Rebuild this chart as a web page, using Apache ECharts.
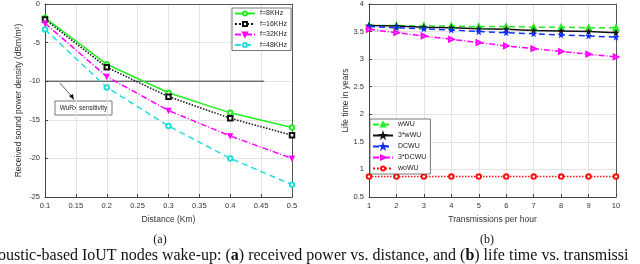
<!DOCTYPE html>
<html><head><meta charset="utf-8">
<script src="https://cdn.jsdelivr.net/npm/echarts@6/dist/echarts.min.js"></script>
<style>html,body{margin:0;padding:0;background:#fff}#c{width:640px;height:264px}</style>
</head><body><div id="c"></div>
<script>
// ---- Data (a) ----
const distance = [0.1, 0.2, 0.3, 0.4, 0.5];
const f8 = [-1.8, -7.8, -11.5, -14.1, -16.0];
const f16 = [-2.0, -8.2, -12.0, -14.8, -17.0];
const f32 = [-2.5, -9.4, -13.8, -17.1, -20.0];
const f48 = [-3.3, -10.8, -15.8, -20.0, -23.4];
const sensX = [0.1, 0.455];
const sensY = [-10, -10];
const namesA = ['f=8KHz', 'f=16KHz', 'f=32KHz', 'f=48KHz'];
// ---- Data (b) ----
const trans = [1, 2, 3, 4, 5, 6, 7, 8, 9, 10];
const wWU = [3.61, 3.61, 3.60, 3.60, 3.59, 3.59, 3.58, 3.58, 3.57, 3.57];
const w3WU = [3.61, 3.60, 3.58, 3.57, 3.55, 3.54, 3.52, 3.51, 3.50, 3.48];
const DCWU = [3.59, 3.57, 3.55, 3.53, 3.50, 3.48, 3.46, 3.44, 3.42, 3.40];
const DCWU3 = [3.54, 3.48, 3.42, 3.36, 3.30, 3.24, 3.19, 3.14, 3.09, 3.04];
const woWU = [0.87, 0.87, 0.87, 0.87, 0.87, 0.87, 0.87, 0.87, 0.87, 0.87];
const namesB = ['wWU', '3*wWU', 'DCWU', '3*DCWU', 'woWU'];

const zip = (xs, ys) => xs.map((x, i) => [x, ys[i]]);
const FONT = 'Liberation Sans';
const star = 'path://M50,0 L61,35 L98,35 L68,57 L79,91 L50,70 L21,91 L32,57 L2,35 L39,35 Z';

function axisCommon(extra) {
  return Object.assign({
    axisLine: { show: true, onZero: false, lineStyle: { color: '#444', width: 1 } },
    axisTick: { show: true, inside: true, length: 3, lineStyle: { color: '#444' } },
    splitLine: { show: true, lineStyle: { color: '#e4e4e4', width: 1 } },
    axisLabel: { fontFamily: FONT, fontSize: 7.5, color: '#333', margin: 5 },
    nameTextStyle: { fontFamily: FONT, fontSize: 8.5, color: '#333' }
  }, extra);
}
function boxAxis(grid, min, max, isY) {
  return {
    type: 'value', gridIndex: grid, min: min, max: max, position: isY ? 'right' : 'top',
    axisLine: { show: true, lineStyle: { color: '#555' } },
    axisTick: { show: false }, axisLabel: { show: false }, splitLine: { show: false }
  };
}
function ser(name, data, color, type, symbol, rot, xi, yi, size) {
  return {
    name: name, type: 'line', data: data, xAxisIndex: xi, yAxisIndex: yi,
    symbol: symbol, symbolSize: size || 4.5, symbolRotate: rot || 0,
    showAllSymbol: true,
    lineStyle: { color: color, width: 1.5, type: type },
    itemStyle: { color: color, borderColor: color, borderWidth: 1.2 },
    animation: false
  };
}

const chart = echarts.init(document.getElementById('c'), null, { renderer: 'canvas' });
chart.setOption({
  animation: false,
  grid: [
    { left: 45, top: 3, width: 247, height: 194 },
    { left: 369, top: 2, width: 247, height: 195 }
  ],
  xAxis: [
    axisCommon({ type: 'value', gridIndex: 0, min: 0.1, max: 0.5, interval: 0.05,
      name: 'Distance (Km)', nameLocation: 'middle', nameGap: 15,
      axisLabel: { fontFamily: FONT, fontSize: 7.5, color: '#333', margin: 5,
        formatter: v => String(Math.round(v * 100) / 100) } }),
    axisCommon({ type: 'value', gridIndex: 1, min: 1, max: 10, interval: 1,
      name: 'Transmissions per hour', nameLocation: 'middle', nameGap: 15 }),
    boxAxis(0, 0.1, 0.5, false),
    boxAxis(1, 1, 10, false)
  ],
  yAxis: [
    axisCommon({ type: 'value', gridIndex: 0, min: -25, max: 0, interval: 5,
      name: 'Received sound power density (dBm/m\u00B2)', nameLocation: 'middle', nameGap: 22 }),
    axisCommon({ type: 'value', gridIndex: 1, min: 0.5, max: 4, interval: 0.5,
      name: 'Life time in years', nameLocation: 'middle', nameGap: 18 }),
    boxAxis(0, -25, 0, true),
    boxAxis(1, 0.5, 4, true)
  ],
  legend: [
    { data: namesA, left: 232, top: 8, orient: 'vertical', itemWidth: 20, itemHeight: 5, itemGap: 3.5,
      padding: [2, 4, 2, 2], borderColor: '#555', borderWidth: 0.8, backgroundColor: '#fff',
      textStyle: { fontFamily: FONT, fontSize: 7, color: '#222' } },
    { data: namesB, left: 370, top: 119, orient: 'vertical', itemWidth: 20, itemHeight: 5, itemGap: 4,
      padding: [2, 4, 2, 2], borderColor: '#555', borderWidth: 0.8, backgroundColor: '#fff',
      textStyle: { fontFamily: FONT, fontSize: 7, color: '#222' } }
  ],
  series: [
    Object.assign(ser('sens', zip(sensX, sensY), '#333', 'solid', 'none', 0, 0, 0), { silent: true, lineStyle: { color: '#333', width: 1 } }),
    ser(namesA[0], zip(distance, f8), '#22ee22', 'solid', 'emptyCircle', 0, 0, 0),
    ser(namesA[1], zip(distance, f16), '#111', 'dotted', 'emptyRect', 0, 0, 0),
    ser(namesA[2], zip(distance, f32), '#ff00ff', [6, 2, 1, 2], 'triangle', 180, 0, 0),
    ser(namesA[3], zip(distance, f48), '#22dddd', [6, 4], 'emptyCircle', 0, 0, 0),
    ser(namesB[0], zip(trans, wWU), '#22ee22', [6, 4], 'emptyTriangle', 0, 1, 1),
    ser(namesB[1], zip(trans, w3WU), '#111', 'solid', star, 0, 1, 1, 4),
    ser(namesB[2], zip(trans, DCWU), '#1030ff', [6, 4], star, 0, 1, 1, 4),
    ser(namesB[3], zip(trans, DCWU3), '#ff00ff', [6, 2, 1, 2], 'emptyTriangle', -90, 1, 1),
    ser(namesB[4], zip(trans, woWU), '#ff1010', 'dotted', 'emptyCircle', 0, 1, 1)
  ],
  graphic: [
    { type: 'line', shape: { x1: 60, y1: 83, x2: 73, y2: 98 }, style: { stroke: '#333', lineWidth: 0.8 } },
    { type: 'polygon', shape: { points: [[74, 100], [69, 96], [73, 94]] }, style: { fill: '#111' } },
    { type: 'rect', shape: { x: 55, y: 101, width: 57, height: 14 }, style: { fill: '#fff', stroke: '#555', lineWidth: 0.8 } },
    { type: 'text', x: 83.5, y: 108, style: { text: 'WuRx sensitivity', font: '6.5px "Liberation Sans"', fill: '#222', align: 'center', verticalAlign: 'middle' } },
    { type: 'text', x: 160, y: 240, style: { text: '(a)', font: '12px "Liberation Serif"', fill: '#111', align: 'center', verticalAlign: 'middle' } },
    { type: 'text', x: 487, y: 240, style: { text: '(b)', font: '12px "Liberation Serif"', fill: '#111', align: 'center', verticalAlign: 'middle' } },
    { type: 'text', x: -2, y: 256, style: {
      text: '{n|oustic-based IoUT nodes wake-up: (}{b|a}{n|) received power vs. distance, and (}{b|b}{n|) life time vs. transmissi}',
      rich: { n: { font: '16px "Liberation Serif"', fill: '#111' }, b: { font: 'bold 16px "Liberation Serif"', fill: '#111' } },
      verticalAlign: 'middle' } }
  ]
});
</script>
</body></html>
